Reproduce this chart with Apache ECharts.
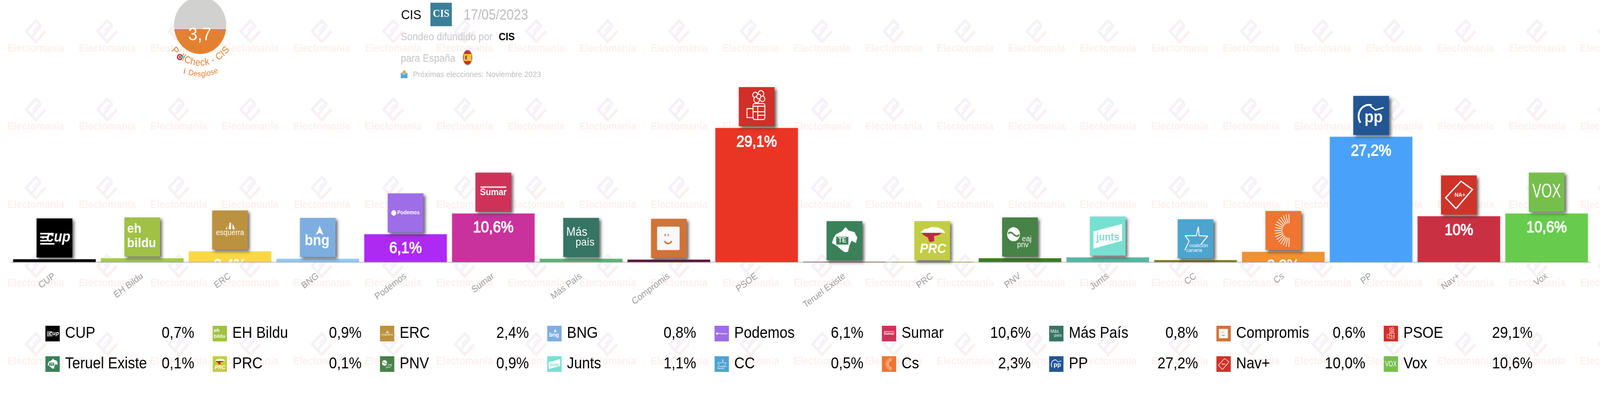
<!DOCTYPE html>
<html><head><meta charset="utf-8">
<style>html,body{margin:0;padding:0;background:#fff;overflow:hidden}#c{width:4476px;height:1028px;transform-origin:0 0}</style>
<script src="https://cdn.jsdelivr.net/npm/echarts@6/dist/echarts.min.js"></script>
</head><body><div id="c"></div>
<script>
const categories = ['CUP','EH Bildu','ERC','BNG','Podemos','Sumar','Más País','Compromis','PSOE','Teruel Existe','PRC','PNV','Junts','CC','Cs','PP','Nav+','Vox'];
const values = [0.7,0.9,2.4,0.8,6.1,10.6,0.8,0.6,29.1,0.1,0.1,0.9,1.1,0.5,2.3,27.2,10.0,10.6];
const barColors = ['#000000','#a4cb50','#fad74a','#93c9f6','#ad2af3','#c9329d','#5cb376','#5a1438','#ea3524','#7d2f0f','#a6c93f','#3a7d1f','#56b8a3','#7a7a12','#f09235','#4aa1f9','#c93143','#67cb4e'];
const logoColors = ['#000000','#a0c146','#bc9240','#7eaee0','#9e6de8','#cf3259','#367463','#d17337','#d12f27','#3a8159','#c3cd44','#478247','#78e0d1','#4da4d0','#ef7530','#225594','#cf3328','#76bf4c'];
const pollScore = '3,7';
const FONT = '"Liberation Sans"';
const PAGE_W = 4476;
/* fit the 4476px layout into the window if the window is narrower */
document.getElementById('c').style.transform = `scaleX(${Math.min(1, window.innerWidth/PAGE_W)})`;

const T = (text,x,y,size,o={}) => Object.assign({type:'text',style:{text,x,y,fill:o.fill||'#fff',
  font:`${o.style||''} ${o.weight||'normal'} ${size}px ${o.family||FONT}`,align:o.align||'center',verticalAlign:'middle'}},
  o.scaleX?{scaleX:o.scaleX,originX:x,originY:y}:{});
const R = (x,y,w,h,fill,r) => ({type:'rect',shape:{x,y,width:w,height:h,r:r||0},style:{fill}});
const C = (cx,cy,r,fill,stroke,lw) => ({type:'circle',shape:{cx,cy,r},style:{fill:fill||'none',stroke:stroke||'none',lineWidth:lw||0}});
const P = (points,fill) => ({type:'polygon',shape:{points},style:{fill}});
const L = (points,stroke,lw,closed) => ({type:closed?'polygon':'polyline',shape:{points},style:{fill:'none',stroke,lineWidth:lw,lineJoin:'round'}});
const A = (cx,cy,r,a0,a1,stroke,lw) => ({type:'arc',shape:{cx,cy,r,startAngle:a0*Math.PI/180,endAngle:a1*Math.PI/180,clockwise:true},style:{fill:'none',stroke,lineWidth:lw}});

const logoArt = [
  c=>[R(-40,-13,38,4,'#fff'),R(-40,-4,20,4,'#fff'),R(-40,5,20,4,'#fff'),R(-40,13,40,4,'#fff'),
      P([[-32,-6],[-29,3],[-37,-2],[-27,-2],[-35,3]],'#fff'),T('cup',11,-1,38,{weight:'bold',style:'italic'})],
  c=>[T('eh',-42,-20,34,{weight:'bold',align:'left'}),T('bildu',-2,17,34,{weight:'bold'})],
  c=>[P([[-12,-2],[-8,-2],[-8,-10]],'#fff'),P([[-4,-2],[3,-2],[3,-19],[-1,-19]],'#fff'),P([[7,-2],[14,-2],[10,-11],[7,-16]],'#fff'),T('esquerra',0,7,20)],
  c=>[P([[5,-30],[11,-17],[16,-6],[5,-12],[-6,-6],[0,-17]],'#fff'),T('bng',-2,9,38,{weight:'bold'})],
  c=>[{type:'circle',shape:{cx:-33,cy:0,r:7},style:{fill:'#fff'}},T('Podemos',8,0,14,{weight:'bold'})],
  c=>[R(-36,-15,72,4,'#f6d9e0'),T('Sumar',0,1,24,{weight:'bold'})],
  c=>[T('Más',-12,-13,31),T('país',11,13,28)],
  c=>[R(-33,-30,63,60,'#f8f8f8',3),R(-12,-11,3,5,c),R(-3,-11,3,5,c),A(-2,2,11,25,155,c,4)],
  c=>[C(-4,-30,7,c,'#fff',2.5),C(12,-33,8,c,'#fff',2.5),C(16,-20,7,c,'#fff',2.5),C(0,-18,8,c,'#fff',2.5),C(6,-26,6,c,'#fff',2.5),
      {type:'rect',shape:{x:-10,y:-8,width:33,height:41,r:5},style:{fill:'none',stroke:'#fff',lineWidth:2.5}},
      L([[-10,-1],[23,-1]],'#fff',2.5),L([[-10,13],[23,13]],'#fff',2.5),L([[3,22],[23,22]],'#fff',2.5),L([[3,-1],[3,33]],'#fff',2.5),
      L([[-10,5],[-27,5],[-27,28],[-10,28]],'#fff',2.5)],
  c=>[P([[-6,-25],[3,-35],[12,-26],[28,-22],[36,-8],[32,6],[20,0],[14,12],[10,28],[2,30],[-8,24],[-20,14],[-35,6],[-30,-8],[-24,-16]],'#fff'),R(-23,-10,34,20,c),T('TE',-6,0,18,{weight:'bold',fill:'#fff'})],
  c=>[P([[-32,-22],[-22,-30],[-12,-31],[-2,-35],[16,-34],[30,-28],[37,-20],[-30,-20]],'#fff'),
      P([[-30,-20],[28,-20],[18,-14],[5,-12],[6,0],[0,3],[-8,3],[-12,-8],[-24,-14]],'#bb2a42'),
      T('PRC',2,22,35,{weight:'bold',style:'italic'})],
  c=>[C(-18,-7,18,'#fff'),{type:'bezierCurve',shape:{x1:-33,y1:-8,x2:-2,y2:-6,cpx1:-22,cpy1:-22,cpx2:-14,cpy2:8},style:{fill:'none',stroke:c,lineWidth:4}},T('eaj',19,5,20),T('pnv',8,20,20)],
  c=>[P([[-40,-12],[40,-31],[40,12],[-40,32]],'#fff'),T('junts',0,4,27,{weight:'bold',fill:c})],
  c=>[L([[8,-31],[2,-8],[-29,-8],[-18,6],[-30,29]],'#fff',2.5),L([[8,-31],[10,-8],[34,-7],[15,14]],'#fff',2.5),T('coalición',9,17,13.5),T('canaria',-4,29,13.5)],
  c=>{const a=[];for(let d=92;d<=268;d+=11){const t=d*Math.PI/180;a.push(L([[17+19*Math.cos(t),-19*Math.sin(t)],[17+42*Math.cos(t),-42*Math.sin(t)]],'#fff',2));}return a;},
  c=>[A(-6,2,29,145,285,'#fff',5),L([[-2,-24],[12,-14],[35,-20]],'#fff',3.5),T('pp',7,6,42,{weight:'bold'})],
  c=>[L([[6,-35],[38,-14],[-8,35],[-37,7]],'#fff',3.5,true),T('NA+',3,0,15,{weight:'bold'})],
  c=>[T('VOX',0,0,50,{scaleX:0.76})]
];
const logoGroup = (i,x,y,s,shadow) => {
  const c = logoColors[i];
  const bg = R(-50,-50,100,100,c);
  if (shadow) Object.assign(bg.style,{shadowBlur:8,shadowColor:'rgba(50,50,50,.75)',shadowOffsetX:5,shadowOffsetY:5});
  return {type:'group',x,y,scaleX:s,scaleY:s,children:[bg].concat(logoArt[i](c))};
};
const fmtBar = v => String(v).replace('.',',') + '%';
const fmtRow = v => v.toFixed(1).replace('.',',') + '%';

/* ---- page furniture ---- */
const deco = [];
const behind = e => Object.assign(e,{z:-5,silent:true});
for (let col=0; col<23; col++) for (let row=0; row<5; row++) {
  const x=100+col*200, y=row*200;
  deco.push({type:'group',x,y,silent:true,children:[
    behind(L([[14,66],[0,53],[-27,80],[-12,95],[14,66]],'#f5f1f8',7)),
    behind(L([[-8,80],[5,67]],'#f5f1f8',4)),
    behind(L([[27,80],[0,107],[-11,96]],'#f9f0f0',7)),
    behind({type:'text',style:{text:'Electomanía',x:0,y:125,fill:'#fcf1ee',font:`bold 27px ${FONT}`,align:'center',verticalAlign:'middle'}})
  ]});
}
const ctx = document.createElement('canvas').getContext('2d');
const curve = (text,cx,cy,r,center,font,fill) => {
  ctx.font = font;
  const total = ctx.measureText(text).width;
  const out = []; let run = 0;
  for (const ch of text) {
    const w = ctx.measureText(ch).width;
    const th = center + (run + w/2 - total/2)/r;
    run += w;
    if (ch !== ' ') out.push({type:'text',x:cx+r*Math.sin(th),y:cy+r*Math.cos(th),rotation:th,
      style:{text:ch,x:0,y:0,font,fill,align:'center',verticalAlign:'middle'}});
  }
  return out;
};
const chord = (cx,cy,r,y0,bottom) => {
  const pts=[]; const a=Math.asin((y0-cy)/r);
  const a0=bottom?a:Math.PI-a, a1=bottom?Math.PI-a:2*Math.PI+a;
  for(let k=0;k<=64;k++){const t=a0+(a1-a0)*k/64;pts.push([cx+r*Math.cos(t),cy+r*Math.sin(t)]);}
  return pts;
};
const orange='#e38131';
deco.push(P(chord(560,65,73,73,false),'#d1d1cf'));
deco.push(P(chord(560,65,73,74,true),orange));
deco.push(T(pollScore,559,90,47));
curve('PollCheck - CIS',560,65,96,0.01,`25px ${FONT}`,orange).forEach((e,k)=>{ if(k!==1) deco.push(e); });
deco.push(C(503,146,8,'#c4202f'),C(503,146,5,'#f4d6d6'),C(503,146,2.5,'#c4202f'),L([[505,146],[518,145]],'#4fc3d0',3.5));
curve('Desglose',560,65,125,0.07,`20px ${FONT}`,orange).forEach(e=>deco.push(e));
deco.push(T('i',516,183,18,{fill:'#d9782c',weight:'bold',style:'italic',family:'"Liberation Serif"'}));

const HGRAY='#bdbdbd';
deco.push(T('CIS',1122,40,34,{fill:'#000',align:'left'}));
deco.push(R(1204,7,60,60,'#3a8098'),T('CIS',1234,36,28,{weight:'bold',family:'"Liberation Serif"'}));
deco.push(T('17/05/2023',1297,40,36,{fill:HGRAY,align:'left'}));
deco.push(T('Sondeo difundido por',1121,96,27,{fill:'#c6c6c6',align:'left'}));
deco.push(T('CIS',1395,96,27,{fill:'#000',weight:'bold',align:'left'}));
deco.push(T('para España',1121,151,27,{fill:'#c6c6c6',align:'left'}));
deco.push({type:'group',x:1308,y:147,scaleX:0.68,scaleY:1,children:[C(0,0,20,'#ababab'),C(0,0,18,'#c8322b'),
  R(-16,-9,32,18,'#f6c53c'),R(-10,-5,7,10,'#b0452c')]});
deco.push(T('Próximas elecciones: Noviembre 2023',1155,191,21,{fill:HGRAY,align:'left'}));
deco.push(R(1121,187,19,13,'#5aa6cf'),P([[1121,187],[1130,182],[1140,187],[1130,192]],'#8ccbe6'),R(1128,180,6,7,'#f09a3e'));

/* ---- legend table ---- */
categories.forEach((name,i)=>{
  const col=i%9, row=Math.floor(i/9);
  const x=127+col*468, cy=853+row*78;
  deco.push(logoGroup(i,x+20,cy,0.4,false));
  deco.push(T(name,x+55,cy,40,{fill:'#000',align:'left'}));
  deco.push(T(fmtRow(values[i]),x+416.5,cy,40,{fill:'#000',align:'right'}));
});

const chart = echarts.init(document.getElementById('c'),null,{renderer:'canvas',width:PAGE_W,height:1028});
chart.setOption({
  animation:false,
  backgroundColor:'#fff',
  graphic:{elements:deco},
  grid:{left:29.5,right:26.5,top:0,bottom:357.3},
  xAxis:{type:'category',data:categories,z:5,
    axisLine:{show:true,lineStyle:{color:'rgba(90,90,90,.32)',width:2.5}},
    axisTick:{show:false},
    axisLabel:{interval:0,rotate:35,margin:33,fontSize:24,color:'#9a9a9a',fontFamily:FONT}},
  yAxis:{type:'value',min:0,max:56.75,show:false,splitLine:{show:false}},
  series:[
    {type:'bar',name:'Estimación',barWidth:232,silent:true,
     data:values.map((v,i)=>({value:v,itemStyle:{color:barColors[i],borderColor:barColors[i]+'99',borderWidth:2}}))},
    {type:'custom',name:'Etiquetas',silent:true,clip:false,z:3,
     data:values.map((v,i)=>[i,v]),
     renderItem:(p,api)=>{
       const i=api.value(0), v=api.value(1);
       const top=api.coord([i,v]), base=api.coord([i,0]);
       return {type:'group',
         clipPath:{type:'rect',shape:{x:top[0]-116,y:top[1]-1,width:232,height:base[1]-top[1]+2}},
         children:[{type:'text',style:{text:fmtBar(v),x:top[0],y:top[1]+37.5,fill:'#fff',stroke:'#fff',lineWidth:1.6,
           font:`40px ${FONT}`,align:'center',verticalAlign:'middle'}}]};
     }},
    {type:'custom',name:'Logos',silent:true,clip:false,z:6,
     data:values.map((v,i)=>[i,v]),
     renderItem:(p,api)=>{
       const i=api.value(0), v=api.value(1);
       const top=api.coord([i,v]);
       return logoGroup(i,top[0],top[1]-54,1,true);
     }}
  ]
});
</script></body></html>
